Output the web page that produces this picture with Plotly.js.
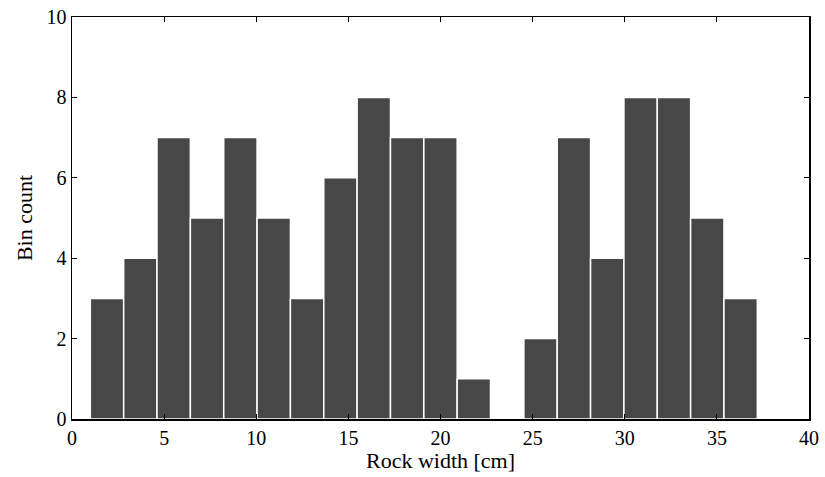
<!DOCTYPE html>
<html>
<head>
<meta charset="utf-8">
<script src="https://cdn.plot.ly/plotly-3.0.1.min.js"></script>
<style>html,body{margin:0;padding:0;background:#fff;}#chart{width:825px;height:477px;}</style>
</head>
<body>
<div id="chart"></div>
<script>
// Bin centers (cm) and counts
const binCenters = [1.9, 3.71, 5.52, 7.33, 9.14, 10.95, 12.76, 14.57, 16.38, 18.19,
                    20.0, 21.81, 23.62, 25.43, 27.24, 29.05, 30.86, 32.67, 34.48, 36.29];
const binCounts  = [3, 4, 7, 5, 7, 5, 3, 6, 8, 7,
                    7, 1, 0, 2, 7, 4, 8, 8, 5, 3];
const xTicks = [0, 5, 10, 15, 20, 25, 30, 35, 40];
const yTicks = [0, 2, 4, 6, 8, 10];
const binWidth = 1.81;

const fam = '"Liberation Serif", "Times New Roman", serif';
const tickFont = {family: fam, size: 20, color: '#000'};
const titleFont = {family: fam, size: 22, color: '#000'};

Plotly.newPlot('chart', [{
  type: 'bar',
  x: binCenters,
  y: binCounts,
  width: binCenters.map(() => binWidth),
  marker: {color: '#474747', line: {color: '#ffffff', width: 1.5}},
  hoverinfo: 'skip'
}], {
  width: 825, height: 477,
  margin: {l: 72, r: 16, t: 17, b: 58},
  paper_bgcolor: '#fff', plot_bgcolor: '#fff',
  font: tickFont,
  showlegend: false,
  bargap: 0,
  xaxis: {
    range: [0, 40], tickvals: xTicks, ticktext: xTicks.map(String),
    ticks: 'inside', ticklen: 5, tickwidth: 1, tickcolor: '#000',
    showline: true, linecolor: '#000', linewidth: 1.5, mirror: 'ticks',
    showgrid: false, zeroline: false, tickfont: tickFont,
    title: {text: 'Rock width [cm]', font: titleFont, standoff: 0}
  },
  yaxis: {
    range: [0, 10], tickvals: yTicks, ticktext: yTicks.map(String),
    ticks: 'inside', ticklen: 5, tickwidth: 1, tickcolor: '#000',
    showline: true, linecolor: '#000', linewidth: 1.5, mirror: 'ticks',
    showgrid: false, zeroline: false, tickfont: tickFont,
    title: {text: 'Bin count', font: titleFont, standoff: 8}
  }
}, {displayModeBar: false, staticPlot: true});
</script>
</body>
</html>
